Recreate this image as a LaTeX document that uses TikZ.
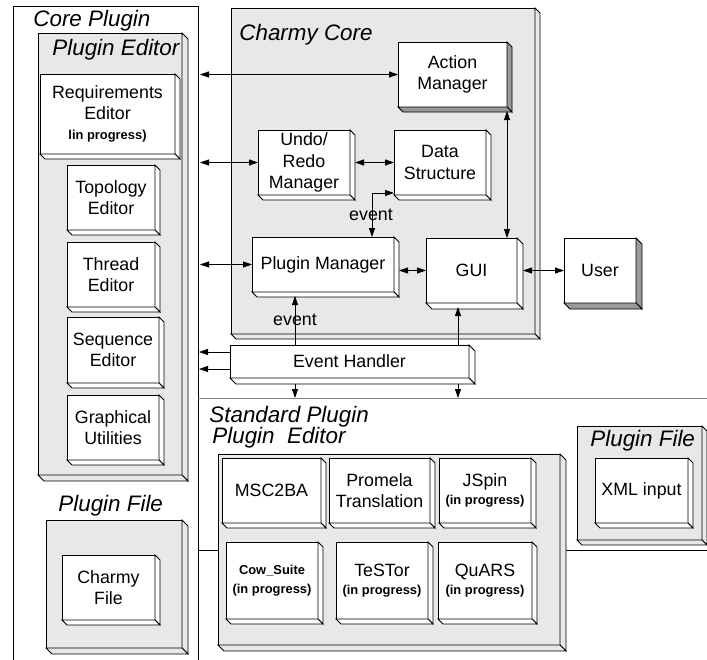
\documentclass[tikz,border=0pt]{standalone}
\usepackage{fontspec}
\setmainfont{Liberation Sans}
\usetikzlibrary{arrows.meta}
\definecolor{panelgrey}{HTML}{E8E8E8}
\definecolor{sidegrey}{HTML}{9A9A9A}
\newcommand{\bodyfont}{\fontsize{17.8}{21.5}\selectfont}
\newcommand{\titlefont}{\fontsize{22.4}{26}\selectfont\itshape}
\newcommand{\progfont}{\fontsize{12.9}{19}\selectfont\bfseries}
% side faces of a raised box
\newcommand{\extrude}[3]{%
  \draw[fill=#3] (#1.north east) -- ++(#2,#2) -- ([shift={(#2,#2)}]#1.south east) -- (#1.south east) -- cycle;
  \draw[fill=#3] (#1.south west) -- ++(#2,#2) -- ([shift={(#2,#2)}]#1.south east) -- (#1.south east) -- cycle;}
\begin{document}
\begin{tikzpicture}[x=1pt,y=-1pt,line width=0.8pt,
  dims/.style 2 args={minimum width=#1,minimum height=#2},
  block/.style={draw,fill=white,anchor=north west,inner sep=2pt,outer sep=0pt,align=center,font=\bodyfont},
  panel/.style={draw,fill=panelgrey,anchor=north west,inner sep=0pt,outer sep=0pt},
  heading/.style={anchor=base west,inner sep=0pt,font=\titlefont},
  dbl/.style={{Triangle[length=9pt,width=6pt]}-{Triangle[length=9pt,width=6pt]}},
  sgl/.style={-{Triangle[length=9pt,width=6pt]}}]
    \useasboundingbox (0,0) rectangle (707,659);
    \clip (0,0) rectangle (707,659);

    \node[draw,anchor=north west,dims={185}{700},inner sep=0pt,outer sep=0pt] (core) at (13,6) {};
    \node[heading] (coreT) at (33,26) {Core Plugin};

    \coordinate (sepL) at (198,398);
    \coordinate (sepR) at (707,398);
    \draw[gray] (sepL) -- (sepR);
    \coordinate (linkL) at (198,550);
    \coordinate (linkR) at (707,550);
    \draw (linkL) -- (linkR);

    % core plugin editors
    \node[panel,dims={144}{442}] (pe) at (38,33) {};
    \extrude{pe}{6}{panelgrey}
    \node[heading] (peT) at (52,55) {Plugin Editor};
    \node[block,dims={135}{80}] (req) at (40,74) {Requirements\\Editor\\[-1.5pt]{\progfont lin progress)}};
    \extrude{req}{5}{white}
    \node[block,dims={88}{65}] (topo) at (67,165) {Topology\\Editor};
    \extrude{topo}{5}{white}
    \node[block,dims={88}{65}] (thread) at (67,242) {Thread\\Editor};
    \extrude{thread}{5}{white}
    \node[block,dims={92}{66}] (seq) at (67,317) {Sequence\\Editor};
    \extrude{seq}{5}{white}
    \node[block,dims={92}{65}] (graph) at (67,395) {Graphical\\Utilities};
    \extrude{graph}{5}{white}

    \node[heading] (pfLT) at (58,511) {Plugin File};
    \node[panel,dims={136}{128}] (pfL) at (46,520) {};
    \extrude{pfL}{6}{panelgrey}
    \node[block,dims={93}{65}] (cfile) at (62,555) {Charmy\\File};
    \extrude{cfile}{5}{white}

    % charmy core
    \node[panel,dims={304}{326}] (cc) at (231,8) {};
    \extrude{cc}{5}{panelgrey}
    \node[heading] (ccT) at (239,40) {Charmy Core};
    \node[block,dims={109}{65}] (act) at (398,42) {Action\\Manager};
    \extrude{act}{5}{sidegrey}
    \node[block,dims={92}{65}] (undo) at (258,130) {Undo/\\Redo\\Manager};
    \extrude{undo}{5}{white}
    \node[block,dims={92}{65}] (data) at (394,130) {Data\\Structure};
    \extrude{data}{5}{white}
    \node[block,dims={142}{55}] (pm) at (252,237) {Plugin Manager};
    \extrude{pm}{5}{white}
    \node[block,dims={91}{65}] (gui) at (426,238) {GUI};
    \extrude{gui}{6}{white}
    \node[block,dims={72}{65}] (user) at (564,238) {User};
    \extrude{user}{6}{sidegrey}
    \node[block,dims={239}{33}] (eh) at (230,345) {Event Handler};
    \extrude{eh}{6}{white}

    % standard plugin
    \node[heading] (spT) at (209,422) {Standard Plugin};
    \node[heading] (spE) at (212,443) {Plugin\ \ Editor};
    \node[panel,dims={342}{191}] (sp) at (218,454) {};
    \extrude{sp}{6}{panelgrey}
    \node[block,dims={99}{65}] (msc) at (222,458) {MSC2BA};
    \extrude{msc}{5}{white}
    \node[block,dims={101}{65}] (prom) at (329,458) {Promela\\Translation};
    \extrude{prom}{5}{white}
    \node[block,dims={92}{65}] (jspin) at (439,458) {JSpin\\[-3pt]{\progfont (in progress)}};
    \extrude{jspin}{5}{white}
    \node[block,dims={92}{77},font=\progfont] (cow) at (226,542) {Cow\_Suite\\(in progress)};
    \extrude{cow}{5}{white}
    \node[block,dims={92}{77}] (testor) at (336,542) {TeSTor\\[-3pt]{\progfont (in progress)}};
    \extrude{testor}{5}{white}
    \node[block,dims={94}{77}] (quars) at (438,542) {QuARS\\[-3pt]{\progfont (in progress)}};
    \extrude{quars}{5}{white}

    \node[panel,dims={125}{114}] (pfR) at (577,426) {};
    \extrude{pfR}{5}{panelgrey}
    \node[heading] (pfRT) at (590,446) {Plugin File};
    \node[block,dims={93}{65}] (xml) at (595,458) {XML input};
    \extrude{xml}{5}{white}

    % connections
    \coordinate (inA) at (200,74.5);
    \draw[dbl] (inA) -- (act.west);
    \coordinate (inU) at (200,162.5);
    \draw[dbl] (inU) -- (undo.west);
    \coordinate (undoR) at ([xshift=5]undo.east);
    \draw[dbl] (undoR) -- (undoR -| data.west);
    \coordinate (dataL) at ([yshift=2]data.south west);
    \coordinate (pmT) at ([xshift=-22]pm.north east);
    \draw[dbl] (dataL) -| (pmT);
    \node[font=\bodyfont,inner sep=0pt] (ev1) at (371,215) {event};
    \coordinate (inP) at (200,264.5);
    \draw[dbl] (inP) -- (pm.west);
    \coordinate (pmR) at ([xshift=5]pm.east);
    \draw[dbl] (pmR |- gui.west) -- (gui.west);
    \coordinate (actB) at ([yshift=-4]act.south east);
    \draw[dbl] (actB) -- (actB |- gui.north);
    \coordinate (guiR) at ([xshift=6]gui.east);
    \draw[dbl] (guiR) -- (user.west);

    \coordinate (pmB) at ([yshift=-4]pm.south);
    \coordinate (ehA) at ([xshift=65]eh.north west);
    \draw[sgl] (ehA) -- (ehA |- pmB);
    \node[font=\bodyfont,inner sep=0pt] (ev2) at (295,320) {event};
    \coordinate (guiB) at ([yshift=-4]gui.south);
    \coordinate (ehB) at ([xshift=228]eh.north west);
    \draw[sgl] (ehB) -- (ehB |- guiB);
    \coordinate (outE) at (199,352);
    \draw[sgl] (outE -| eh.west) -- (outE);
    \coordinate (outF) at (199,369);
    \draw[sgl] (outF -| eh.west) -- (outF);
    \coordinate (ehC) at ([shift={(65,6)}]eh.south west);
    \draw[sgl] (ehC) -- (ehC |- sepL);
    \coordinate (ehD) at ([shift={(228,6)}]eh.south west);
    \draw[sgl] (ehD) -- (ehD |- sepL);
\end{tikzpicture}
\end{document}
